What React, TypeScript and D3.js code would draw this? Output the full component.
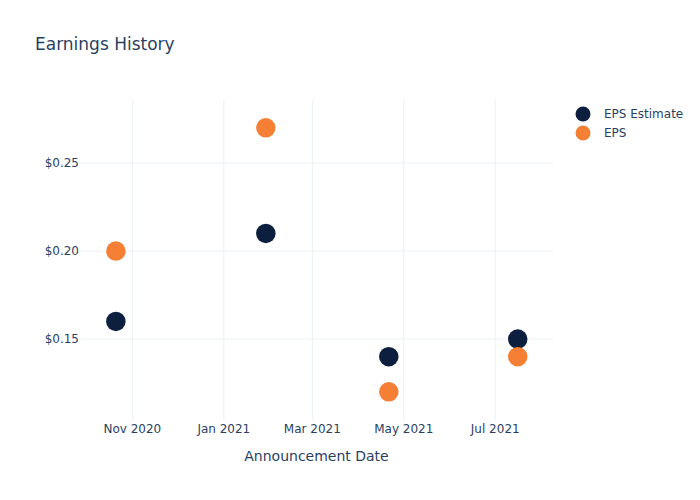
import React from "react";
import * as d3 from "d3";

const dates = ["2020-10-21", "2021-01-29", "2021-04-21", "2021-07-16"];
const epsEstimate = [0.16, 0.21, 0.14, 0.15];
const eps = [0.2, 0.27, 0.12, 0.14];
const yTicks = [0.15, 0.2, 0.25];
const xTicks = ["2020-11-01", "2021-01-01", "2021-03-01", "2021-05-01", "2021-07-01"];
const seriesNames = ["EPS Estimate", "EPS"];
const colors = ["#0c1f3f", "#f58035"];

const W = 700, H = 500;
const L = 80, R = 553, T = 100, B = 420;
const font = "'DejaVu Sans', Verdana, sans-serif";
const textColor = "#2a3f5f";
const parse = d3.utcParse("%Y-%m-%d");

export default function App() {
  const x = d3.scaleUtc()
    .domain([new Date(Date.UTC(2020, 8, 27, 2)), new Date(Date.UTC(2021, 7, 8, 12))])
    .range([L, R]);
  const y = d3.scaleLinear().domain([0.104, 0.2858]).range([B, T]);
  const fmtX = d3.utcFormat("%b %Y");
  const series = [epsEstimate, eps];
  return (
    <svg width={W} height={H} style={{ position: "absolute", left: 0, top: 0, background: "#fff" }} fontFamily={font}>
      <text x={35} y={50} fontSize={17} fill={textColor}>Earnings History</text>
      {xTicks.map((t) => (
        <line key={t} x1={x(parse(t)!)} x2={x(parse(t)!)} y1={T} y2={B} stroke="#ebf0f8" strokeWidth={1} />
      ))}
      {yTicks.map((t) => (
        <line key={t} x1={L} x2={R} y1={y(t)} y2={y(t)} stroke="#ebf0f8" strokeWidth={1} />
      ))}
      {xTicks.map((t) => (
        <text key={t} x={x(parse(t)!)} y={433} fontSize={12} fill={textColor} textAnchor="middle">{fmtX(parse(t)!)}</text>
      ))}
      {yTicks.map((t) => (
        <text key={t} x={79} y={y(t)} dy="0.35em" fontSize={12} fill={textColor} textAnchor="end">{"$" + t.toFixed(2)}</text>
      ))}
      <text x={(L + R) / 2} y={461} fontSize={14} fill={textColor} textAnchor="middle">Announcement Date</text>
      {series.map((s, si) => (
        <g key={si}>
          {s.map((v, i) => (
            <circle key={i} cx={x(parse(dates[i])!)} cy={y(v)} r={9.75} fill={colors[si]} />
          ))}
        </g>
      ))}
      {seriesNames.map((n, i) => (
        <g key={n}>
          <circle cx={583} cy={114 + i * 19} r={7.5} fill={colors[i]} />
          <text x={604} y={114 + i * 19} dy="0.35em" fontSize={12} fill={textColor}>{n}</text>
        </g>
      ))}
    </svg>
  );
}
